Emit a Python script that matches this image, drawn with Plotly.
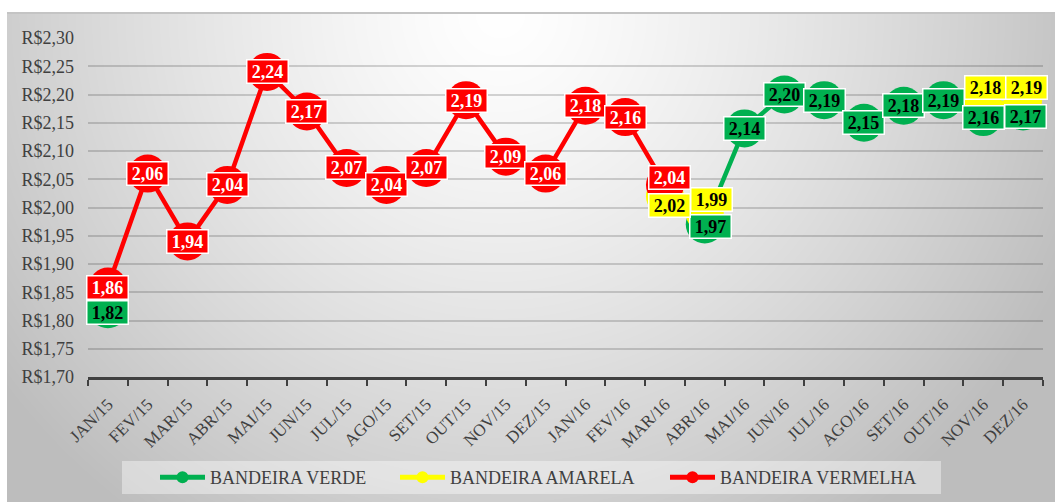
import base64
import struct
import zlib

import numpy as np
import plotly.graph_objects as go

# ---------------- data ----------------
months = ["JAN/15", "FEV/15", "MAR/15", "ABR/15", "MAI/15", "JUN/15", "JUL/15", "AGO/15",
          "SET/15", "OUT/15", "NOV/15", "DEZ/15", "JAN/16", "FEV/16", "MAR/16", "ABR/16",
          "MAI/16", "JUN/16", "JUL/16", "AGO/16", "SET/16", "OUT/16", "NOV/16", "DEZ/16"]

verde = [1.82, None, None, None, None, None, None, None, None, None, None, None,
         None, None, None, 1.97, 2.14, 2.20, 2.19, 2.15, 2.18, 2.19, 2.16, 2.17]

amarela = [None, None, None, None, None, None, None, None, None, None, None, None,
           None, None, 2.02, 1.99, None, None, None, None, None, None, 2.18, 2.19]

vermelha = [1.86, 2.06, 1.94, 2.04, 2.24, 2.17, 2.07, 2.04, 2.07, 2.19, 2.09, 2.06,
            2.18, 2.16, 2.04, None, None, None, None, None, None, None, None, None]

series_names = ["BANDEIRA VERDE", "BANDEIRA AMARELA", "BANDEIRA VERMELHA"]

# ---------------- styles ----------------
W, H = 1055, 502
ML, MR, MT, MB = 88, 12, 38, 125
PW, PH = W - ML - MR, H - MT - MB

FONT = "Liberation Serif, Times New Roman, serif"
TXT = "#404040"
colors = {"verde": "#00B050", "amarela": "#FFFF00", "vermelha": "#FF0000"}
label_text = {"verde": "#000000", "amarela": "#000000", "vermelha": "#FFFFFF"}

# label offsets in pixels (dx, dy with dy positive = downwards)
label_shift = {
    ("verde", 0): (0, 3), ("vermelha", 0): (0, 1),
    ("vermelha", 14): (5, -7), ("amarela", 14): (5, 9),
    ("amarela", 15): (7, -14), ("verde", 15): (6, 2),
    ("amarela", 22): (2, -18), ("verde", 22): (0, 0),
    ("amarela", 23): (3, -13), ("verde", 23): (2, 5),
}


def px_to_paper_x(px):
    return (px - ML) / PW


def px_to_paper_y(py):
    return (H - MB - py) / PH


# ---------------- background gradient image ----------------
def gradient_png(w, h, ox, oy):
    xs = np.arange(w) + ox
    ys = np.arange(h) + oy
    X, Y = np.meshgrid(xs, ys)
    r = np.sqrt(((X - 500) / 520.0) ** 2 + ((Y - 13) / 520.0) ** 2)
    c = 255 - 52 * np.minimum(r, 1.2) ** 1.3
    img = np.clip(c, 0, 255).astype(np.uint8)
    raw = b"".join(b"\x00" + img[i].tobytes() for i in range(h))

    def chunk(tag, data):
        return (struct.pack(">I", len(data)) + tag + data +
                struct.pack(">I", zlib.crc32(tag + data) & 0xFFFFFFFF))

    png = (b"\x89PNG\r\n\x1a\n" +
           chunk(b"IHDR", struct.pack(">IIBBBBB", w, h, 8, 0, 0, 0, 0)) +
           chunk(b"IDAT", zlib.compress(raw, 9)) +
           chunk(b"IEND", b""))
    return "data:image/png;base64," + base64.b64encode(png).decode()


FX0, FY0 = 7, 13
bg_src = gradient_png(W - FX0, H - FY0, FX0, FY0)

fig = go.Figure()

legend_ids = ["legend", "legend2", "legend3"]
keys = ["verde", "amarela", "vermelha"]
values = [verde, amarela, vermelha]

for key, vals, name, lid in zip(keys, values, series_names, legend_ids):
    fig.add_trace(go.Scatter(
        x=months, y=vals, name=name, mode="lines+markers",
        line=dict(color=colors[key], width=4.5),
        marker=dict(color=colors[key], size=38),
        connectgaps=False, legend=lid, cliponaxis=False,
        hoverinfo="skip",
    ))

annotations = []
for key, vals in zip(keys, values):
    for i, v in enumerate(vals):
        if v is None:
            continue
        dx, dy = label_shift.get((key, i), (0, 0))
        annotations.append(dict(
            x=months[i], y=v, xref="x", yref="y",
            text=f"{v:.2f}".replace(".", ","),
            showarrow=False,
            font=dict(family=FONT, size=18, color=label_text[key], weight="bold"),
            bgcolor=colors[key], bordercolor="#FFFFFF", borderwidth=1.5,
            borderpad=0, width=40, height=22,
            xshift=dx, yshift=-dy,
        ))

# legends
legend_px = [155, 395, 665]
legend_layout = {}
for lid, lx in zip(legend_ids, legend_px):
    legend_layout[lid] = dict(
        orientation="h", x=px_to_paper_x(lx), xanchor="left",
        y=px_to_paper_y(477.5), yanchor="middle",
        bgcolor="rgba(0,0,0,0)", borderwidth=0,
        font=dict(family=FONT, size=18, color=TXT),
        itemwidth=45, itemsizing="constant",
    )

shapes = [
    dict(type="rect", xref="paper", yref="paper",
         x0=px_to_paper_x(122), x1=px_to_paper_x(941),
         y0=px_to_paper_y(494), y1=px_to_paper_y(461),
         fillcolor="rgba(255,255,255,0.4)", line=dict(width=0), layer="below"),
    dict(type="line", xref="paper", yref="paper",
         x0=px_to_paper_x(FX0), x1=px_to_paper_x(W),
         y0=px_to_paper_y(FY0), y1=px_to_paper_y(FY0),
         line=dict(color="#c4c4c4", width=2), layer="below"),
]

images = [dict(
    source=bg_src, xref="paper", yref="paper",
    x=px_to_paper_x(FX0), y=px_to_paper_y(FY0),
    sizex=(W - FX0) / PW, sizey=(H - FY0) / PH,
    xanchor="left", yanchor="top", sizing="stretch", layer="below",
)]

fig.update_layout(
    width=W, height=H,
    margin=dict(l=ML, r=MR, t=MT, b=MB, pad=0, autoexpand=False),
    paper_bgcolor="#FFFFFF", plot_bgcolor="rgba(0,0,0,0)",
    separators=",.",
    showlegend=True,
    annotations=annotations, shapes=shapes, images=images,
    xaxis=dict(
        type="category", categoryorder="array", categoryarray=months,
        range=[-0.5, len(months) - 0.5],
        tickson="boundaries", ticks="outside", ticklen=6, tickwidth=2, tickcolor=TXT,
        showline=True, linecolor=TXT, linewidth=2.5,
        tickangle=-45, tickfont=dict(family=FONT, size=17, color=TXT),
        ticklabelstandoff=8, automargin=False,
        showgrid=False, zeroline=False, fixedrange=True,
    ),
    yaxis=dict(
        range=[1.70, 2.30], tick0=1.70, dtick=0.05,
        tickformat=".2f", tickprefix="R$",
        showgrid=True, gridcolor="rgba(0,0,0,0.16)", gridwidth=2,
        zeroline=False, showline=False, ticks="",
        ticklabelstandoff=13, automargin=False,
        tickfont=dict(family=FONT, size=18, color=TXT),
        fixedrange=True,
    ),
    **legend_layout,
)

fig.write_html(
    "out.html",
    config={"displayModeBar": False},
    post_script="document.body.style.margin='0';",
)
